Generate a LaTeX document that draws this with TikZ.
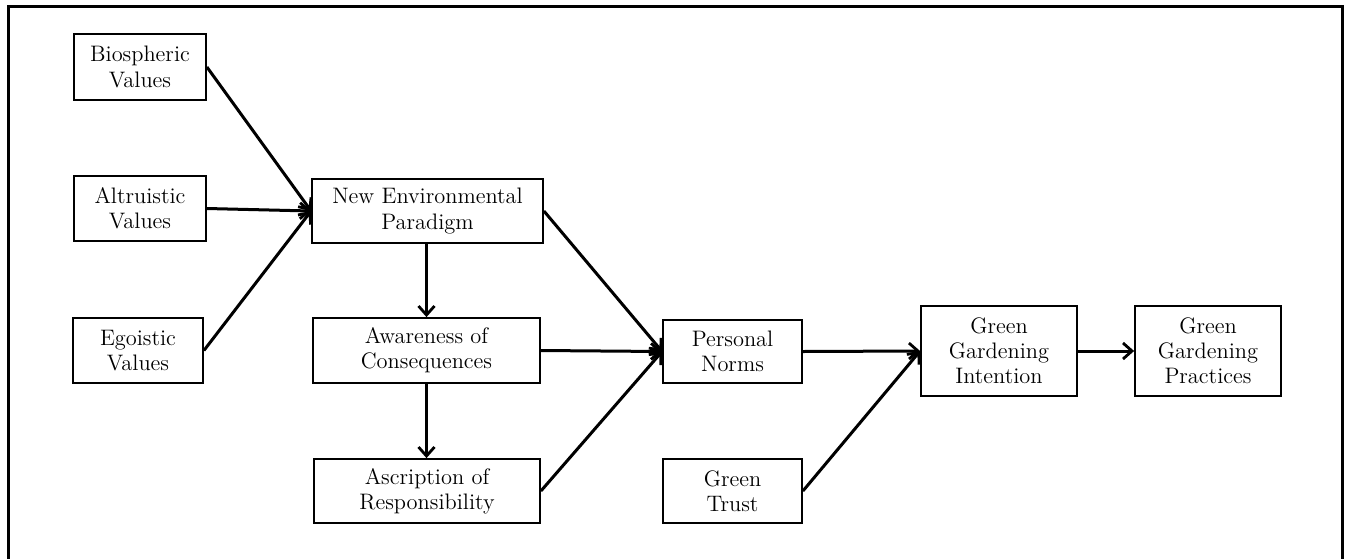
\documentclass[tikz,border=0pt]{standalone}
\usetikzlibrary{arrows.meta}
\begin{document}
\begin{tikzpicture}[x=0.5pt,y=-0.5pt,
  box/.style={draw,line width=0.9pt,rectangle,inner sep=0pt,align=center,
    font=\fontsize{11.2}{12.6}\selectfont},
  link/.style={line width=1.5pt,-{Straight Barb[length=4.5pt,width=8pt,line width=1.4pt]}}]
\useasboundingbox (0,0) rectangle (1345,558);
\draw[line width=1.5pt] (8,570) -- (8,6) -- (1342,6) -- (1342,570);
\node[box,minimum width=66pt,minimum height=33pt] (bio) at (140,67) {Biospheric\\Values};
\node[box,minimum width=66pt,minimum height=32.5pt] (alt) at (140,208.5) {Altruistic\\Values};
\node[box,minimum width=65pt,minimum height=32.5pt] (ego) at (138,350.5) {Egoistic\\Values};
\node[box,minimum width=115.5pt,minimum height=32pt] (nep) at (427.5,211) {New Environmental\\Paradigm};
\node[box,minimum width=113.5pt,minimum height=32.5pt] (aoc) at (426.5,350.5) {Awareness of\\Consequences};
\node[box,minimum width=113pt,minimum height=32pt] (aor) at (427,491) {Ascription of\\Responsibility};
\node[box,minimum width=69.5pt,minimum height=31.5pt] (pn) at (732.5,351.5) {Personal\\Norms};
\node[box,minimum width=69.5pt,minimum height=32pt] (gt) at (732.5,491) {Green\\Trust};
\node[box,minimum width=78pt,minimum height=45pt] (ggi) at (999,351) {Green\\Gardening\\Intention};
\node[box,minimum width=73pt,minimum height=45pt] (ggp) at (1208,351) {Green\\Gardening\\Practices};
\draw[link] (bio.east) -- (nep.west);
\draw[link] (alt.east) -- (nep.west);
\draw[link] (ego.east) -- (nep.west);
\draw[link] (aoc.north |- nep.south) -- (aoc.north);
\draw[link] (aoc.south) -- (aoc.south |- aor.north);
\draw[link] (nep.east) -- (pn.west);
\draw[link] (aoc.east) -- (pn.west);
\draw[link] (aor.east) -- (pn.west);
\draw[link] (pn.east) -- (ggi.west);
\draw[link] (gt.east) -- (ggi.west);
\draw[link] (ggi.east) -- (ggp.west);
\end{tikzpicture}
\end{document}
